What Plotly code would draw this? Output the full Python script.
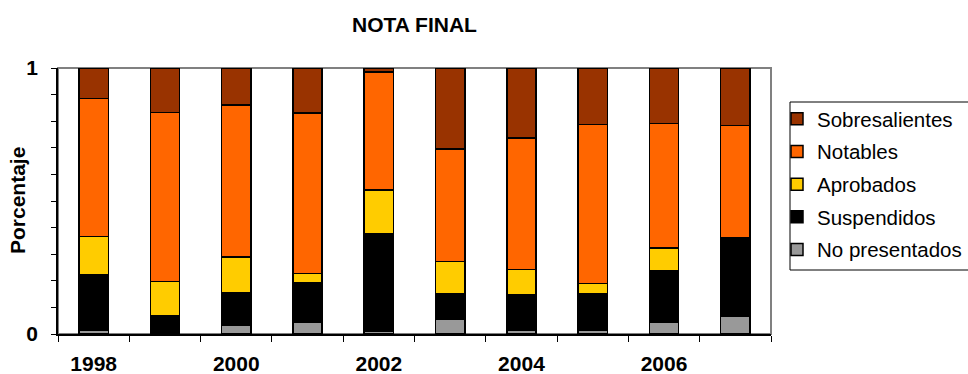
import plotly.graph_objects as go

years = ["1998", "1999", "2000", "2001", "2002", "2003", "2004", "2005", "2006", "2007"]
tick_text = ["1998", "", "2000", "", "2002", "", "2004", "", "2006", ""]

no_presentados = [0.015, 0.000, 0.034, 0.044, 0.010, 0.056, 0.015, 0.015, 0.043, 0.066]
suspendidos    = [0.208, 0.070, 0.120, 0.150, 0.366, 0.096, 0.133, 0.138, 0.193, 0.295]
aprobados      = [0.144, 0.128, 0.135, 0.033, 0.165, 0.121, 0.095, 0.036, 0.087, 0.000]
notables       = [0.518, 0.634, 0.571, 0.603, 0.444, 0.422, 0.494, 0.598, 0.468, 0.423]
sobresalientes = [0.115, 0.168, 0.140, 0.170, 0.015, 0.305, 0.263, 0.213, 0.209, 0.216]

series = [
    ("No presentados", no_presentados, "#999999"),
    ("Suspendidos", suspendidos, "#000000"),
    ("Aprobados", aprobados, "#FFCC00"),
    ("Notables", notables, "#FF6600"),
    ("Sobresalientes", sobresalientes, "#993300"),
]

FONT = "Liberation Sans, Arial, sans-serif"
FS = 21
LFS = 20.5
W, H = 968, 374
ML, MR, MT, MB = 58, 197, 68, 40

fig = go.Figure()
n = len(series)
for i, (name, vals, col) in enumerate(series):
    fig.add_trace(go.Bar(
        x=years, y=vals, name=name, legendgroup=name, legendrank=n - i,
        marker=dict(color=col, line=dict(color="#000000", width=1.5)),
    ))

# plot-area frame (gray top/right)
fig.add_shape(type="rect", xref="paper", yref="paper", x0=0, y0=0, x1=1, y1=1,
              line=dict(color="#808080", width=2), layer="below")

pw = W - ML - MR
ph = H - MT - MB
def px_to_paper_x(px):
    return (px - ML) / pw
def px_to_paper_y(py):
    return (H - MB - py) / ph

# legend frame (extends beyond right edge)
fig.add_shape(type="rect", xref="paper", yref="paper",
              x0=px_to_paper_x(790), x1=px_to_paper_x(975),
              y0=px_to_paper_y(270), y1=px_to_paper_y(102),
              line=dict(color="#000000", width=1), fillcolor="white", layer="below")

# y-axis title
fig.add_annotation(text="<b>Porcentaje</b>", textangle=-90, showarrow=False,
                   xref="paper", yref="paper", x=px_to_paper_x(17), y=0.5,
                   xanchor="center", yanchor="middle",
                   font=dict(family=FONT, size=FS, color="#000000"))

fig.update_layout(
    width=W, height=H,
    margin=dict(l=ML, r=MR, t=MT, b=MB, autoexpand=False),
    paper_bgcolor="white", plot_bgcolor="white",
    barmode="stack", bargap=0.59,
    font=dict(family=FONT, size=FS, color="#000000"),
    title=dict(text="<b>NOTA FINAL</b>", x=0.5, xref="paper", xanchor="center",
               y=1 - 24.5 / H, yref="container", yanchor="middle",
               font=dict(family=FONT, size=FS, color="#000000")),
    legend=dict(
        x=px_to_paper_x(777), xanchor="left", xref="paper",
        y=px_to_paper_y(99), yanchor="top", yref="paper",
        bgcolor="rgba(0,0,0,0)", borderwidth=0,
        font=dict(family=FONT, size=LFS, color="#000000"),
        traceorder="grouped", tracegroupgap=3,
        itemclick=False,
    ),
    showlegend=True,
    xaxis=dict(
        type="category", tickmode="array", tickvals=years, ticktext=tick_text,
        tickson="boundaries", ticks="outside", ticklen=6, tickwidth=1, tickcolor="#000000",
        showline=True, linecolor="#000000", linewidth=1.5, automargin=False,
        showgrid=False, zeroline=False, ticklabelstandoff=10,
        tickfont=dict(family=FONT, size=FS, color="#000000", weight="bold"),
    ),
    yaxis=dict(
        range=[0, 1], tickmode="array", tickvals=[0, 1], ticktext=["0", "1"],
        ticks="outside", ticklen=5, tickwidth=1, tickcolor="#000000",
        minor=dict(dtick=0.1, ticks="outside", ticklen=5, tickcolor="#000000", showgrid=False),
        showline=True, linecolor="#000000", linewidth=1.5, automargin=False,
        showgrid=False, zeroline=False, ticklabelstandoff=9,
        tickfont=dict(family=FONT, size=FS, color="#000000", weight="bold"),
    ),
)

fig.write_html("out.html", config={"displayModeBar": False},
               post_script="document.body.style.margin='0';document.body.style.overflow='hidden';")
